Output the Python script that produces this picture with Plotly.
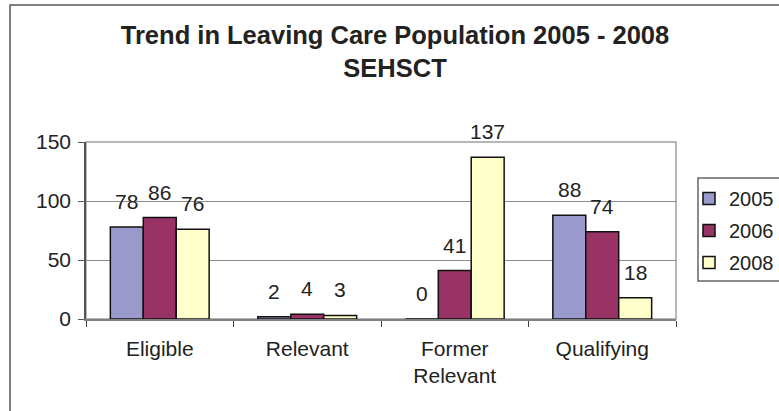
import plotly.graph_objects as go

categories = ['Eligible', 'Relevant', 'Former<br>Relevant', 'Qualifying']
years = ['2005', '2006', '2008']
values_2005 = [78, 2, 0, 88]
values_2006 = [86, 4, 41, 74]
values_2008 = [76, 3, 137, 18]
y_ticks = [0, 50, 100, 150]

colors = ['#9999CC', '#993366', '#FFFFCC']
font_family = 'Arial, Liberation Sans, sans-serif'

# plot area in pixels (from the reference)
W, H = 779, 411
left, right, top, bottom = 86, 676, 142, 319
bargap = 0.33

fig = go.Figure()

series = [values_2005, values_2006, values_2008]
for i, (name, vals) in enumerate(zip(years, series)):
    fig.add_trace(
        go.Bar(
            x=categories,
            y=vals,
            name=name,
            legendgroup=name,
            marker=dict(color=colors[i], line=dict(color='#111111', width=1.5)),
        )
    )

# data labels sit well above the bars, like in Excel
cat_w = (right - left) / len(categories)
bar_w = cat_w * (1 - bargap) / len(years)
for i, vals in enumerate(series):
    for cat, v in zip(categories, vals):
        fig.add_annotation(
            x=cat, y=v, text=str(v), showarrow=False,
            xshift=(i - 1) * bar_w, yshift=12, yanchor='bottom',
            font=dict(size=21, color='#222222', family=font_family),
        )

plot_w, plot_h = right - left, bottom - top

# outer chart border (runs off the right / bottom edge)
fig.add_shape(
    type='rect', xref='paper', yref='paper',
    x0=(10 - left) / plot_w, x1=(W + 20 - left) / plot_w,
    y0=(bottom - (H + 20)) / plot_h, y1=(bottom - 5) / plot_h,
    line=dict(color='#555555', width=1.5), layer='below',
)
# legend box (the legend itself is drawn without a border)
fig.add_shape(
    type='rect', xref='paper', yref='paper',
    x0=(698 - left) / plot_w, x1=(W + 1 - left) / plot_w,
    y0=(bottom - 281) / plot_h, y1=(bottom - 178) / plot_h,
    line=dict(color='#666666', width=1.5), layer='below',
)
# plot area frame
fig.add_shape(
    type='rect', xref='x domain', yref='y domain', x0=0, x1=1, y0=0, y1=1,
    line=dict(color='#A0A0A0', width=1.5), layer='below',
)

fig.update_layout(
    width=W, height=H,
    margin=dict(l=left, r=W - right, t=top, b=H - bottom, autoexpand=False),
    paper_bgcolor='white', plot_bgcolor='white',
    barmode='group', bargap=bargap, bargroupgap=0,
    font=dict(family=font_family, size=21, color='#222222'),
    title=dict(
        text='<b>Trend in Leaving Care Population 2005 - 2008<br>SEHSCT</b>',
        x=395 / W, xanchor='center', xref='container',
        y=1 - 44 / H, yanchor='top', yref='container',
        font=dict(size=25.5, color='#222222'),
    ),
    legend=dict(
        x=689 / W, xanchor='left', xref='container',
        y=1 - 179 / H, yanchor='top', yref='container',
        borderwidth=0, bgcolor='rgba(0,0,0,0)',
        tracegroupgap=3, font=dict(size=20),
    ),
    showlegend=True,
)

fig.update_xaxes(
    showline=True, linecolor='#808080', linewidth=1.5,
    ticks='outside', tickson='boundaries', ticklen=6, tickcolor='#404040',
    ticklabelstandoff=10,
    showgrid=False, fixedrange=True, automargin=False,
)
fig.update_yaxes(
    range=[0, 150], tickvals=y_ticks,
    showline=True, linecolor='#555555', linewidth=1.5,
    ticks='outside', ticklen=6, tickcolor='#555555',
    ticklabelstandoff=3,
    showgrid=True, gridcolor='#8C8C8C', gridwidth=1,
    zeroline=False, automargin=False,
)

# the default page has an 8px body margin; drop it so pixels line up
fig.write_html(
    'out.html',
    config={'displayModeBar': False},
    post_script="document.body.style.margin='0px';",
)
